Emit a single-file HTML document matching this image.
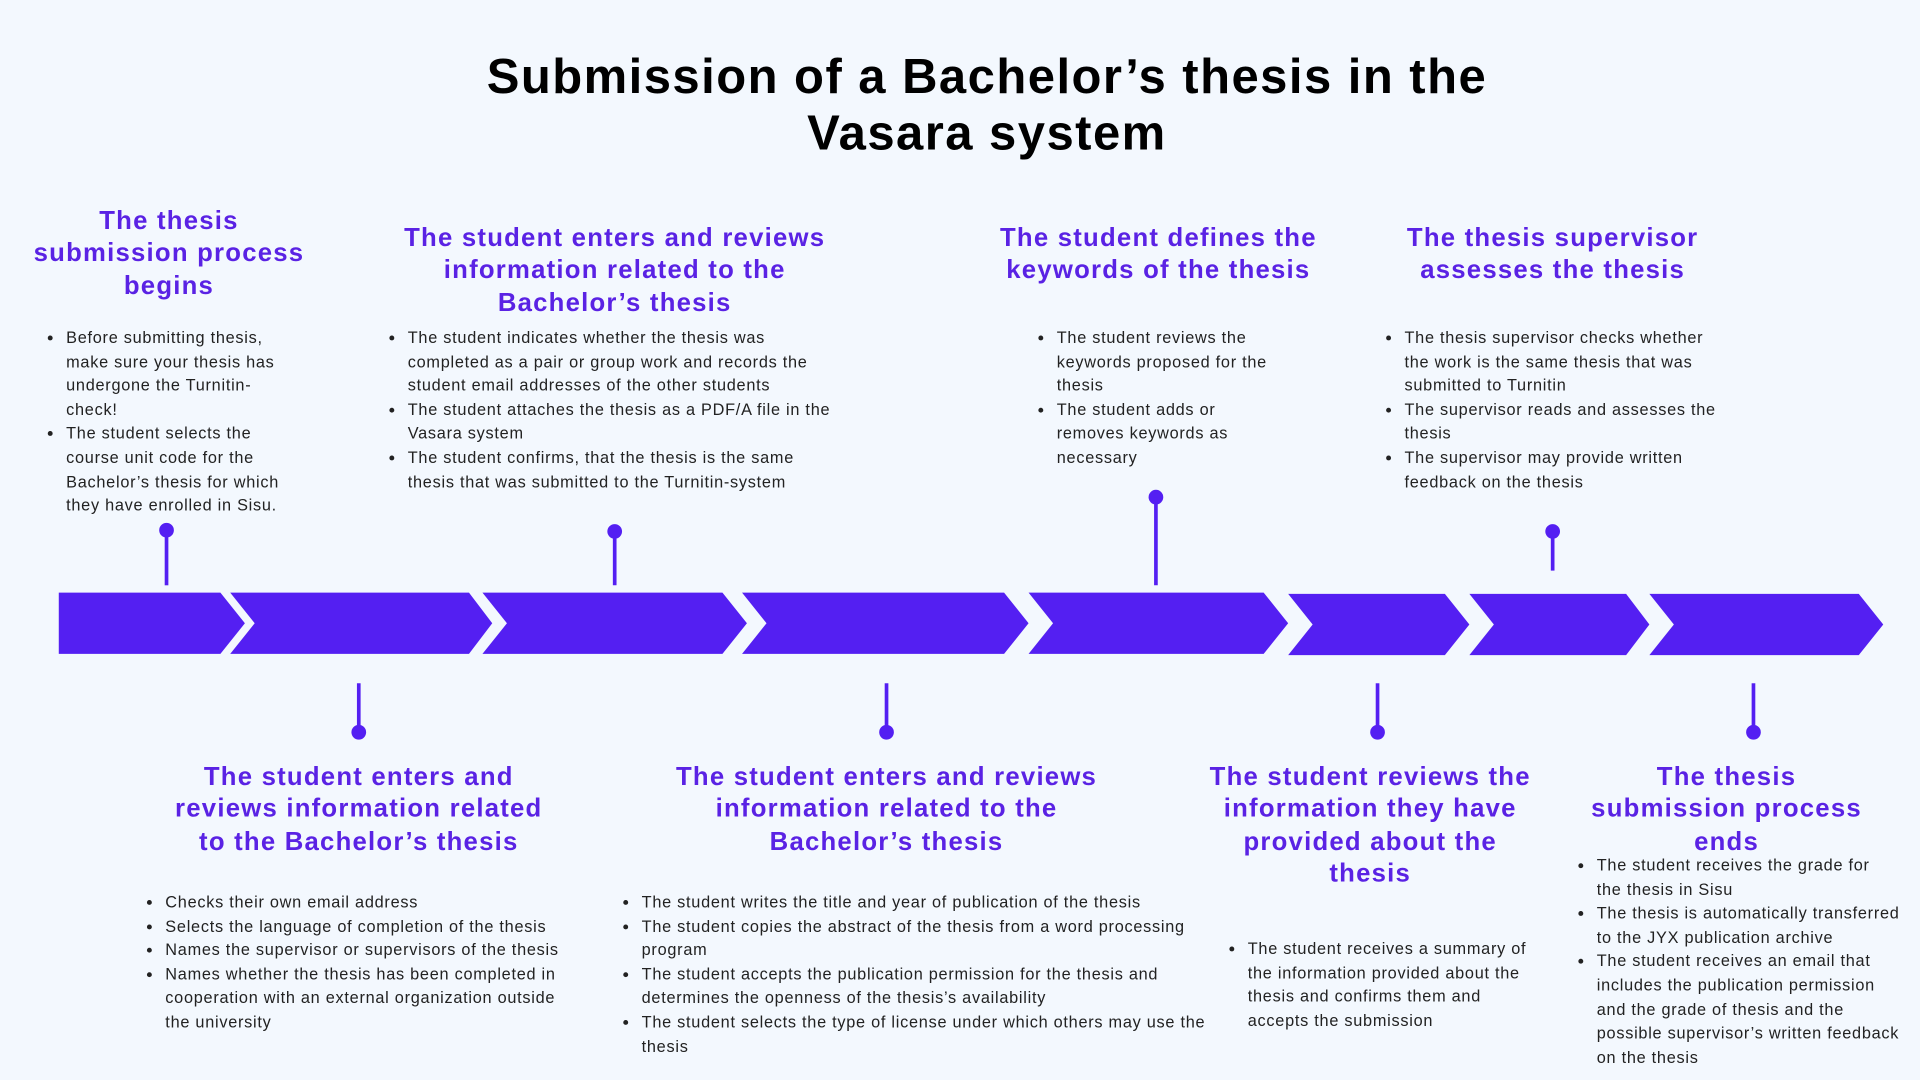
<!DOCTYPE html>
<html><head><meta charset="utf-8"><style>
html,body{margin:0;padding:0;background:#f3f8fe;width:1920px;height:1080px;overflow:hidden}
#w{position:absolute;left:0;top:0;width:1568px;height:882px;transform:scale(1.22449);transform-origin:0 0;font-family:"Liberation Sans",sans-serif}
.t{position:absolute;left:22px;width:1568px;text-align:center;font-weight:bold;font-size:40px;line-height:46px;top:40px;color:#000;letter-spacing:1.2px}
.h{position:absolute;text-align:center;color:#5a22e4;font-weight:bold;font-size:21px;line-height:26.3px;white-space:nowrap;transform:translateX(-50%);letter-spacing:1px}
ul{position:absolute;margin:0;padding:0 0 0 16px;font-size:13.3px;line-height:19.6px;color:#222;white-space:nowrap;letter-spacing:0.6px}
li{margin:0}
svg{position:absolute;left:0;top:0}
</style></head><body><div id="w">
<div class="t">Submission of a Bachelor’s thesis in the<br>Vasara system</div>
<svg width="1568" height="882">
<g fill="#541ff2">
<polygon points="48,484 180,484 200,509 180,534 48,534"/>
<polygon points="188,484 383,484 402,509 383,534 188,534 208,509"/>
<polygon points="394,484 590,484 610,509 590,534 394,534 414,509"/>
<polygon points="606,484 820,484 840,509 820,534 606,534 626,509"/>
<polygon points="840,484 1032,484 1052,509 1032,534 840,534 860,509"/>
<polygon points="1052,485 1180,485 1200,510 1180,535 1052,535 1072,510"/>
<polygon points="1200,485 1328,485 1347,510 1328,535 1200,535 1220,510"/>
<polygon points="1347,485 1518,485 1538,510 1518,535 1347,535 1367,510"/>
<circle cx="136" cy="433" r="6"/><circle cx="502" cy="434" r="6"/><circle cx="944" cy="406" r="6"/><circle cx="1268" cy="434" r="6"/>
<circle cx="293" cy="598" r="6"/><circle cx="724" cy="598" r="6"/><circle cx="1125" cy="598" r="6"/><circle cx="1432" cy="598" r="6"/>
</g>
<g stroke="#541ff2" stroke-width="3">
<line x1="136" y1="433" x2="136" y2="478"/><line x1="502" y1="434" x2="502" y2="478"/><line x1="944" y1="406" x2="944" y2="478"/><line x1="1268" y1="434" x2="1268" y2="466"/>
<line x1="293" y1="558" x2="293" y2="598"/><line x1="724" y1="558" x2="724" y2="598"/><line x1="1125" y1="558" x2="1125" y2="598"/><line x1="1432" y1="558" x2="1432" y2="598"/>
</g></svg>
<div class="h" style="left:138px;top:168px">The thesis<br>submission process<br>begins</div>
<div class="h" style="left:502px;top:182px">The student enters and reviews<br>information related to the<br>Bachelor’s thesis</div>
<div class="h" style="left:946px;top:182px">The student defines the<br>keywords of the thesis</div>
<div class="h" style="left:1268px;top:182px">The thesis supervisor<br>assesses the thesis</div>
<div class="h" style="left:293px;top:622px">The student enters and<br>reviews information related<br>to the Bachelor’s thesis</div>
<div class="h" style="left:724px;top:622px">The student enters and reviews<br>information related to the<br>Bachelor’s thesis</div>
<div class="h" style="left:1119px;top:622px">The student reviews the<br>information they have<br>provided about the<br>thesis</div>
<div class="h" style="left:1410px;top:622px">The thesis<br>submission process<br>ends</div>
<ul style="left:38px;top:266px"><li>Before submitting thesis,<br>make sure your thesis has<br>undergone the Turnitin-<br>check!</li><li>The student selects the<br>course unit code for the<br>Bachelor’s thesis for which<br>they have enrolled in Sisu.</li></ul>
<ul style="left:317px;top:266px"><li>The student indicates whether the thesis was<br>completed as a pair or group work and records the<br>student email addresses of the other students</li><li>The student attaches the thesis as a PDF/A file in the<br>Vasara system</li><li>The student confirms, that the thesis is the same<br>thesis that was submitted to the Turnitin-system</li></ul>
<ul style="left:847px;top:266px"><li>The student reviews the<br>keywords proposed for the<br>thesis</li><li>The student adds or<br>removes keywords as<br>necessary</li></ul>
<ul style="left:1131px;top:266px"><li>The thesis supervisor checks whether<br>the work is the same thesis that was<br>submitted to Turnitin</li><li>The supervisor reads and assesses the<br>thesis</li><li>The supervisor may provide written<br>feedback on the thesis</li></ul>
<ul style="left:119px;top:727px"><li>Checks their own email address</li><li>Selects the language of completion of the thesis</li><li>Names the supervisor or supervisors of the thesis</li><li>Names whether the thesis has been completed in<br>cooperation with an external organization outside<br>the university</li></ul>
<ul style="left:508px;top:727px"><li>The student writes the title and year of publication of the thesis</li><li>The student copies the abstract of the thesis from a word processing<br>program</li><li>The student accepts the publication permission for the thesis and<br>determines the openness of the thesis’s availability</li><li>The student selects the type of license under which others may use the<br>thesis</li></ul>
<ul style="left:1003px;top:765px"><li>The student receives a summary of<br>the information provided about the<br>thesis and confirms them and<br>accepts the submission</li></ul>
<ul style="left:1288px;top:697px"><li>The student receives the grade for<br>the thesis in Sisu</li><li>The thesis is automatically transferred<br>to the JYX publication archive</li><li>The student receives an email that<br>includes the publication permission<br>and the grade of thesis and the<br>possible supervisor’s written feedback<br>on the thesis</li></ul>
</div></body></html>
